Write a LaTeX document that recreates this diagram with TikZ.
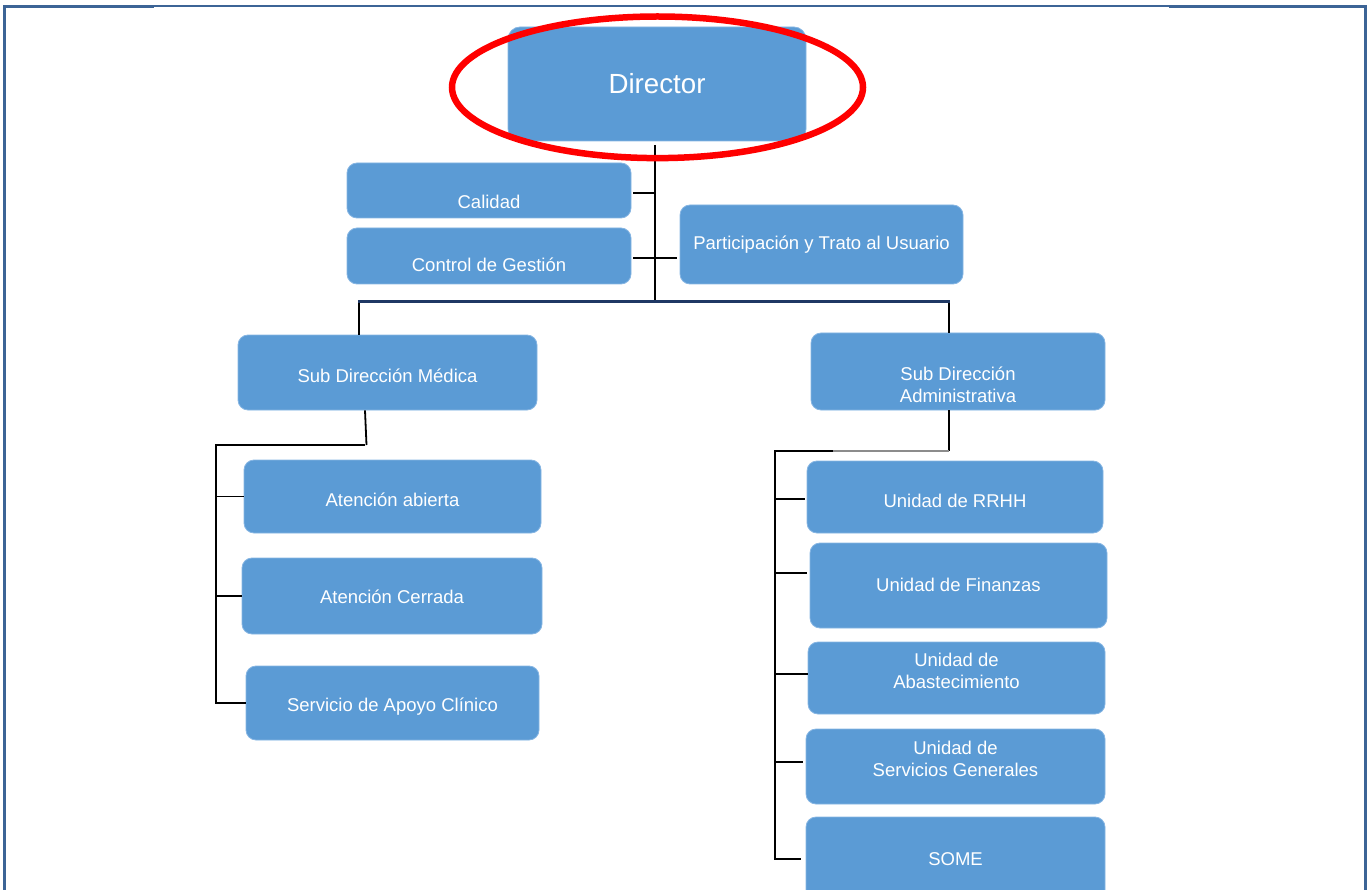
\documentclass[tikz,border=0pt]{standalone}
\usepackage{fontspec}
\setmainfont{Liberation Sans}
\definecolor{boxblue}{HTML}{5B9BD5}
\definecolor{boxedge}{HTML}{86B5E3}
\definecolor{framecol}{HTML}{3C6496}
\definecolor{busnavy}{HTML}{1F3864}
\definecolor{linkgray}{HTML}{8C8C8C}
\newcommand\lift[2]{\raisebox{-#1pt}[0pt][0pt]{#2}}
\newcommand\twolines[2]{\begin{tabular}[b]{@{}c@{}}#1\\#2\end{tabular}}
\tikzset{
  orgbox/.style={draw=boxedge, line width=0.8pt, fill=boxblue, rounded corners=10pt,
    inner sep=0pt, text=white, font=\fontsize{18.5}{22}\selectfont},
  link/.style={black, line width=1.8pt},
  busline/.style={busnavy, line width=3pt},
  fadedlink/.style={linkgray, line width=1.8pt},
  ring/.style={red, line width=6.5pt},
}
% \orgnode{name}{x1}{y1}{x2}{y2}{baseline offset}{text}
\newcommand\orgnode[7]{%
  \node[orgbox, minimum width={#4pt-#2pt}, minimum height={#5pt-#3pt}] (#1)
    at ({(#2+#4)/2},{(#3+#5)/2}) {\lift{#6}{#7}};}
\begin{document}
\begin{tikzpicture}[x=1pt,y=-1pt]
\useasboundingbox (0,0) rectangle (1367,890);
% page frame
\fill[framecol] (3,5) rectangle (6,890);
\fill[framecol] (1364,5) rectangle (1367,890);
\fill[framecol] (3,5) rectangle (154,8);
\fill[framecol] (154,5) rectangle (1169,7);
\fill[framecol] (1169,5) rectangle (1367,8);

% boxes
\node[orgbox, rounded corners=12pt, minimum width=298pt, minimum height=114pt,
  font=\fontsize{27.7}{32}\selectfont] (dir) at (657,84) {\lift{10}{Director}};
\orgnode{cal}{347}{163}{631}{218}{18.5}{Calidad}
\orgnode{ctl}{347}{228}{631}{284}{16}{Control de Gestión}
\orgnode{part}{680}{205}{963}{284}{5.5}{Participación y Trato al Usuario}
\orgnode{sdm}{238}{335}{537}{410}{10}{Sub Dirección Médica}
\orgnode{sda}{811}{333}{1105}{410}{31}{\twolines{Sub Dirección}{Administrativa}}
\orgnode{aab}{244}{460}{541}{533}{9.5}{Atención abierta}
\orgnode{acr}{242}{558}{542}{634}{7.5}{Atención Cerrada}
\orgnode{sac}{246}{666}{539}{740}{8}{Servicio de Apoyo Clínico}
\orgnode{rrhh}{807}{461}{1103}{533}{10}{Unidad de RRHH}
\orgnode{fin}{810}{543}{1107}{628}{5.5}{Unidad de Finanzas}
\orgnode{aba}{808}{642}{1105}{714}{10}{\twolines{Unidad de}{Abastecimiento}}
\orgnode{sgen}{806}{729}{1105}{804}{9.5}{\twolines{Unidad de}{Servicios Generales}}
\orgnode{some}{806}{817}{1105}{901}{6}{SOME}

% coordinates for the wiring
\coordinate (t0) at (655,145);
\coordinate (busL) at (359,302);
\coordinate (busR) at (949,302);
\coordinate (mdrop) at (365,445);
\coordinate (mL) at (216,445);
\coordinate (adrop) at (949,451);
\coordinate (amid) at (833,451);
\coordinate (aR) at (775,451);

% director trunk and staff ticks
\draw[link] (t0) -- (t0 |- busL);
\draw[link] ([xshift=2pt,yshift=-2.5pt]cal.east) -- ([yshift=-2.5pt]cal.east -| t0);
\draw[link] ([xshift=2pt,yshift=-2pt]ctl.east) -- ([xshift=-3pt,yshift=-2pt]ctl.east -| part.west);

% bus
\draw[link] (busL) -- (busL |- sdm.north);
\draw[link] (busR) -- (busR |- sda.north);
\draw[busline] ([xshift=-1pt]busL) -- ([xshift=1pt]busR);

% medical branch
\draw[link] (mdrop |- sdm.south) -- ([xshift=1.5pt]mdrop);
\draw[link] (mdrop) -- (mL) -- (mL |- sac.west);
\draw[link] (mL |- aab.west) -- (aab.west);
\draw[link] (mL |- acr.west) -- (acr.west);
\draw[link] ([xshift=-0.9pt]mL |- sac.west) -- (sac.west);

% administrative branch
\draw[link] (adrop |- sda.south) -- (adrop);
\draw[fadedlink] (adrop) -- (amid);
\draw[link] (amid) -- (aR) -- (aR |- 0,859);
\draw[link] (aR |- 0,499) -- ([xshift=-2pt]rrhh.west |- 0,499);
\draw[link] (aR |- 0,573) -- ([xshift=-3pt]fin.west |- 0,573);
\draw[link] (aR |- 0,674) -- (aba.west |- 0,674);
\draw[link] (aR |- 0,762) -- ([xshift=-3pt]sgen.west |- 0,762);
\draw[link] ([xshift=-0.9pt]aR |- 0,859) -- ([xshift=-5pt]some.west |- 0,859);

% red highlight ring
\draw[ring] (657.5,87.3) ellipse [x radius=205.5pt, y radius=70.8pt];
\end{tikzpicture}
\end{document}
